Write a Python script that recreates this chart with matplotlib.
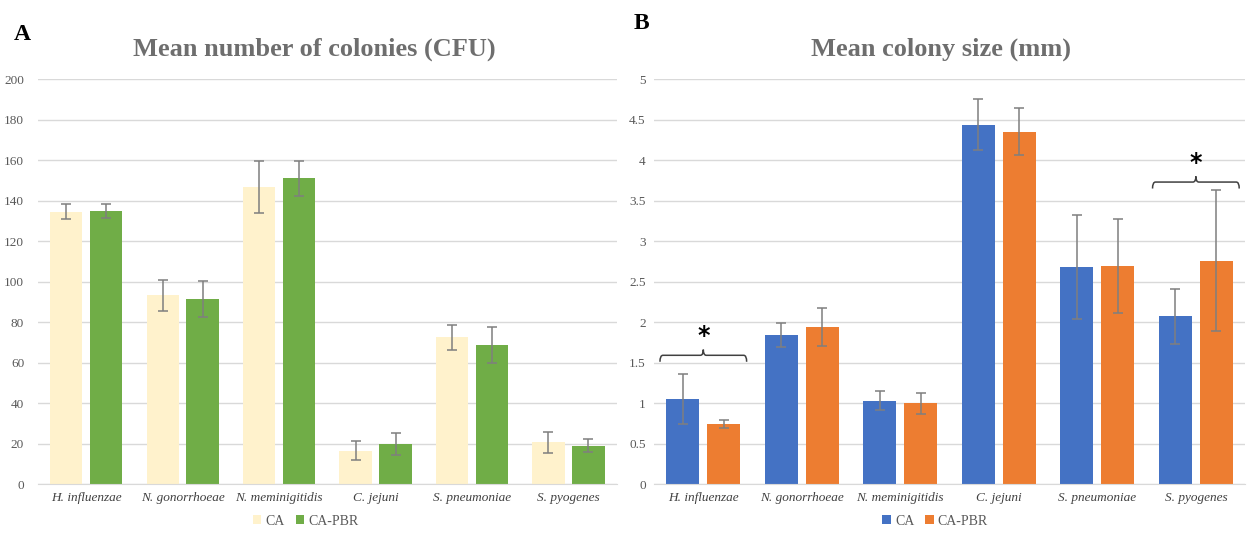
import numpy as np
import matplotlib.pyplot as plt
from matplotlib.path import Path
from matplotlib.patches import PathPatch

species = ['H. influenzae', 'N. gonorrhoeae', 'N. meminigitidis', 'C. jejuni', 'S. pneumoniae', 'S. pyogenes']
series = ['CA', 'CA-PBR']

# A: mean number of colonies (CFU)
cfu_ca = [134.5, 93.2, 146.7, 16.5, 72.4, 20.6]
cfu_ca_err = [3.7, 7.7, 12.8, 4.6, 6.0, 5.1]
cfu_pbr = [135.1, 91.2, 151.0, 19.6, 68.5, 18.9]
cfu_pbr_err = [3.5, 8.9, 8.7, 5.4, 8.9, 3.3]

# B: mean colony size (mm)
size_ca = [1.05, 1.84, 1.03, 4.44, 2.68, 2.07]
size_ca_err = [0.31, 0.145, 0.115, 0.31, 0.64, 0.34]
size_pbr = [0.74, 1.94, 1.00, 4.35, 2.69, 2.76]
size_pbr_err = [0.05, 0.24, 0.13, 0.29, 0.58, 0.87]

# significance brackets on panel B: (category index, bracket height)
sig_idx = [0, 5]
sig_y = [1.51, 3.65]

fig = plt.figure(figsize=(12.47, 5.34), dpi=100)
ax1 = fig.add_axes([0.0305, 0.0936, 0.464, 0.758])
ax2 = fig.add_axes([0.5245, 0.0936, 0.474, 0.758])

serif = 'Liberation Serif'
grid_c = '#D9D9D9'
err_c = '#7F7F7F'


def draw_panel(ax, v1, e1, v2, e2, colors, ymax, ystep, title, tx):
    x = np.arange(len(species))
    w = 0.335
    off = 0.207
    ax.bar(x - off, v1, w, color=colors[0], label=series[0], zorder=2)
    ax.bar(x + off, v2, w, color=colors[1], label=series[1], zorder=2)
    ax.errorbar(x - off, v1, yerr=e1, fmt='none', ecolor=err_c, elinewidth=1.1,
                capsize=3.5, capthick=1.1, zorder=3)
    ax.errorbar(x + off, v2, yerr=e2, fmt='none', ecolor=err_c, elinewidth=1.1,
                capsize=3.5, capthick=1.1, zorder=3)
    ax.set_xlim(-0.5, len(species) - 0.5)
    ax.set_ylim(0, ymax)
    ticks = np.arange(0, ymax + ystep / 2, ystep)
    ax.set_yticks(ticks)
    ax.set_yticklabels(['%g' % t for t in ticks], fontfamily=serif, fontsize=9.5, color='#595959')
    ax.set_xticks(x)
    ax.set_xticklabels(species, fontfamily=serif, fontstyle='italic', fontsize=9.5, color='#404040')
    ax.tick_params(length=0, pad=6)
    ax.grid(axis='y', color=grid_c, linewidth=1, zorder=0)
    for s in ['top', 'right', 'left']:
        ax.spines[s].set_visible(False)
    ax.spines['bottom'].set_color(grid_c)
    ax.set_title(title, x=tx, fontfamily=serif, fontweight='bold', fontsize=19, color='#6E6E6E', pad=17)


draw_panel(ax1, cfu_ca, cfu_ca_err, cfu_pbr, cfu_pbr_err, ['#FFF2CC', '#70AD47'], 200, 20,
           'Mean number of colonies (CFU)', 0.478)
draw_panel(ax2, size_ca, size_ca_err, size_pbr, size_pbr_err, ['#4472C4', '#ED7D31'], 5, 0.5,
           'Mean colony size (mm)', 0.486)
ax1.tick_params(axis='y', pad=10)

# curly brackets with star
for i, y in zip(sig_idx, sig_y):
    x0, x1 = i - 0.44, i + 0.44
    xm = i
    h = 0.08
    r = 0.03
    t = y + h + 0.07
    verts = [(x0, y), (x0, y + h), (x0 + r, y + h),
             (xm - r, y + h), (xm, y + h), (xm, t),
             (xm, t), (xm, y + h), (xm + r, y + h),
             (x1 - r, y + h), (x1, y + h), (x1, y)]
    codes = [Path.MOVETO, Path.CURVE3, Path.CURVE3,
             Path.LINETO, Path.CURVE3, Path.CURVE3,
             Path.MOVETO, Path.CURVE3, Path.CURVE3,
             Path.LINETO, Path.CURVE3, Path.CURVE3]
    ax2.add_patch(PathPatch(Path(verts, codes), fill=False, edgecolor='#404040', lw=1.1, zorder=4))
    ax2.text(xm, y + h + 0.24, '*', ha='center', va='center', fontsize=17,
             fontweight='bold', color='black', family='DejaVu Sans')

fig.legend(*ax1.get_legend_handles_labels(), loc='center', bbox_to_anchor=(0.245, 0.024),
           ncol=2, frameon=False, handlelength=0.6, handleheight=0.6, handletextpad=0.3,
           columnspacing=0.8, prop={'family': serif, 'size': 10}, labelcolor='#595959')
fig.legend(*ax2.get_legend_handles_labels(), loc='center', bbox_to_anchor=(0.75, 0.024),
           ncol=2, frameon=False, handlelength=0.6, handleheight=0.6, handletextpad=0.3,
           columnspacing=0.8, prop={'family': serif, 'size': 10}, labelcolor='#595959')

fig.text(0.011, 0.925, 'A', fontfamily=serif, fontweight='bold', fontsize=17, color='black')
fig.text(0.508, 0.945, 'B', fontfamily=serif, fontweight='bold', fontsize=17, color='black')

fig.savefig('out.png', dpi=100)
